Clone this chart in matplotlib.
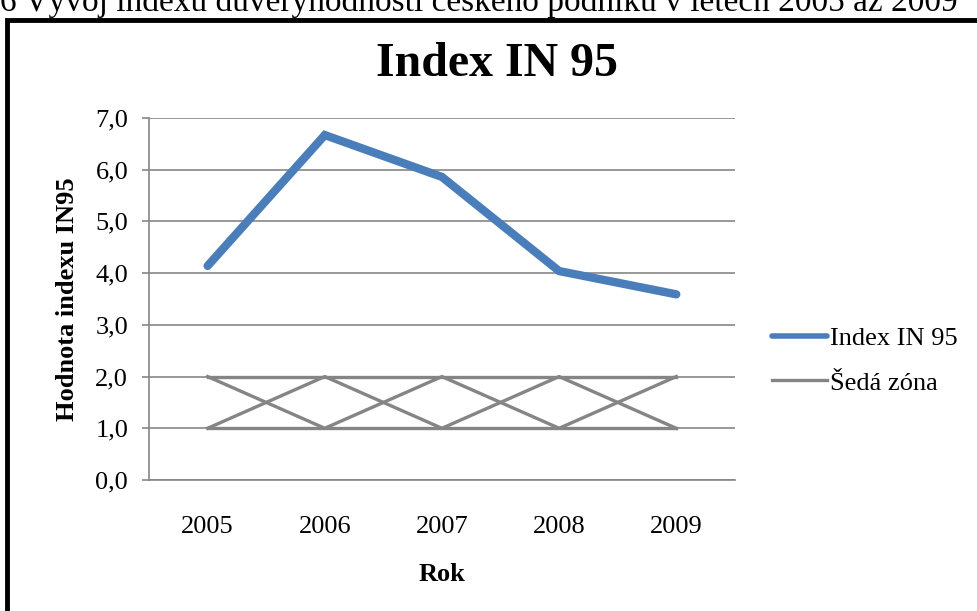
import numpy as np
import matplotlib.pyplot as plt
from matplotlib.patches import Rectangle

plt.rcParams['font.family'] = ['Liberation Serif', 'DejaVu Serif']

roky = ['2005', '2006', '2007', '2008', '2009']
index_in95 = [4.14, 6.67, 5.86, 4.04, 3.59]
# seda zona: horni a dolni hranice + krizove spojnice
zona_horni = [2, 2, 2, 2, 2]
zona_dolni = [1, 1, 1, 1, 1]
zona_a = [2, 1, 2, 1, 2]
zona_b = [1, 2, 1, 2, 1]
y_ticks = [0, 1, 2, 3, 4, 5, 6, 7]

fig = plt.figure(figsize=(9.78, 6.11), dpi=100)
ax = fig.add_axes([0.1524, 0.2144, 0.599, 0.5925])

x = np.arange(len(roky)) + 0.5
seda = '#858585'
for s in (zona_horni, zona_dolni, zona_a, zona_b):
    ax.plot(x, s, color=seda, lw=2.4, zorder=3)
ax.plot(x, index_in95, color='#4a7ebb', lw=6, solid_capstyle='round',
        solid_joinstyle='miter', zorder=4, label='Index IN 95')
ax.plot([], [], color=seda, lw=2.4, label='Šedá zóna')

ax.set_xlim(0, 5)
ax.set_ylim(0, 7)
ax.set_yticks(y_ticks)
ax.set_yticklabels([f'{v},0' for v in y_ticks])
ax.set_xticks(x)
ax.set_xticklabels(roky)
ax.tick_params(axis='x', length=0, pad=26, labelsize=19)
ax.tick_params(axis='y', length=5, color='#868686', width=1.2, pad=10, labelsize=19)
ax.grid(axis='y', color='#868686', lw=1.2)
ax.set_axisbelow(True)
for sp in ('top', 'right'):
    ax.spines[sp].set_visible(False)
for sp in ('left', 'bottom'):
    ax.spines[sp].set_color('#868686')
    ax.spines[sp].set_linewidth(1.2)

ax.set_ylabel('Hodnota indexu IN95', fontsize=19, fontweight='bold', labelpad=12)
ax.set_xlabel('Rok', fontsize=19, fontweight='bold', labelpad=18)

fig.text(0.508, 0.895, 'Index IN 95', ha='center', va='center',
         fontsize=34.5, fontweight='bold')

leg = ax.legend(loc='center left', bbox_to_anchor=(1.022, 0.33), frameon=False,
                fontsize=19, handlelength=2.1, handletextpad=0.12, labelspacing=0.8)
leg.get_lines()[0].set_linewidth(4)

# ramecek a oriznuty popisek nad grafem
fig.patches.append(Rectangle((0.0075, -0.05), 1.2, 1.018, transform=fig.transFigure,
                             fill=False, edgecolor='black', lw=3.5))
fig.text(0.0, 0.982, '6 Vývoj indexu důvěryhodnosti českého podniku v letech 2005 až 2009',
         ha='left', va='baseline', fontsize=24)

fig.savefig('out.png', dpi=100)
